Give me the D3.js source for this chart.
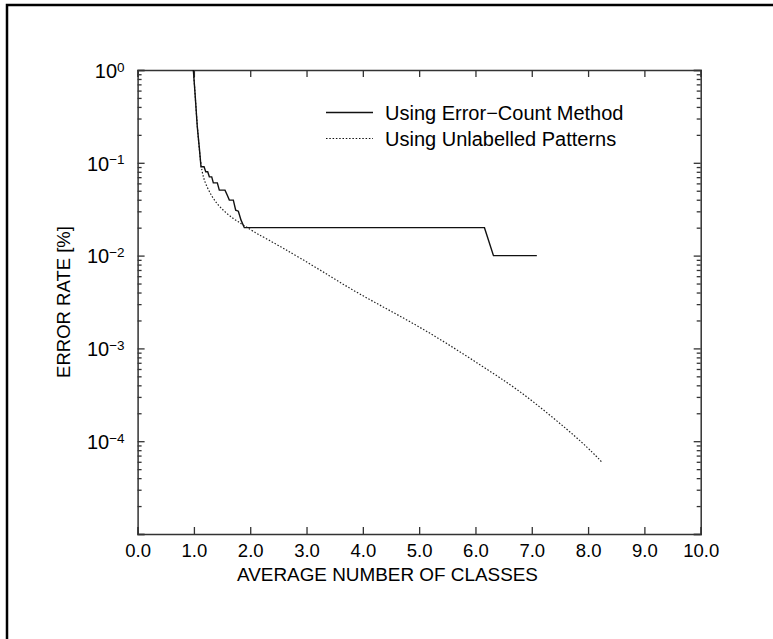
<!DOCTYPE html>
<html>
<head>
<meta charset="utf-8">
<script src="https://cdn.jsdelivr.net/npm/d3@7"></script>
<style>
  body { margin: 0; background: #fff; }
  svg { display: block; font-family: "Liberation Sans", Arial, sans-serif; }
  .domain { stroke: #333; stroke-width: 1.5; }
  .tick line { stroke: #333; stroke-width: 1.3; }
</style>
</head>
<body>
<svg id="chart" width="773" height="639"></svg>
<script>
// x tick values (average number of classes)
const xTicks = [0, 1, 2, 3, 4, 5, 6, 7, 8, 9, 10];
// y decades
const yDecades = [1e-5, 1e-4, 1e-3, 1e-2, 1e-1, 1];
const yLabelled = [1e-4, 1e-3, 1e-2, 1e-1, 1];

// series 1: error-count method (avg classes, error rate)
const errorCountX = [0.99, 1.02, 1.06, 1.10, 1.126, 1.18, 1.21, 1.245, 1.274, 1.316, 1.345, 1.416,
  1.451, 1.552, 1.593, 1.629, 1.70, 1.742, 1.789, 1.837, 1.895, 6.16, 6.32, 7.09];
const errorCountY = [1, 0.56, 0.245, 0.137, 0.0905, 0.0905, 0.08, 0.08, 0.0706, 0.0706, 0.0608, 0.0608,
  0.0508, 0.0508, 0.0448, 0.0396, 0.0396, 0.0309, 0.0301, 0.0241, 0.02, 0.02, 0.01, 0.01];

// series 2: unlabelled patterns
const unlabelledX = [0.99, 1.02, 1.06, 1.10, 1.14, 1.20, 1.32, 1.43, 1.55, 1.67, 1.79, 1.91, 2.08, 2.23,
  2.59, 3.18, 3.77, 4.36, 4.96, 5.55, 6.14, 6.73, 7.33, 7.92, 8.24];
const unlabelledY = [1, 0.56, 0.245, 0.13, 0.08, 0.06, 0.043, 0.035, 0.0296, 0.0258, 0.0231, 0.0207, 0.0178, 0.0159,
  0.012, 0.0074, 0.0044, 0.0028, 0.00177, 0.00108, 0.00063, 0.00037, 0.00019, 0.000095, 0.00006];

const legendLabels = ["Using Error\u2212Count Method", "Using Unlabelled Patterns"];

const svg = d3.select("#chart");

// outer frame
svg.append("rect")
  .attr("x", 7).attr("y", 5)
  .attr("width", 800).attr("height", 700)
  .attr("fill", "none")
  .attr("stroke", "#000")
  .attr("stroke-width", 2.5);

const plotLeft = 137.6, plotRight = 700.7, plotTop = 70, plotBottom = 534;

const x = d3.scaleLinear().domain([0, 10]).range([plotLeft, plotRight]);
const y = d3.scaleLog().domain([1e-5, 1]).range([plotBottom, plotTop]);

// minor ticks for log axis
const minor = [];
yDecades.slice(0, -1).forEach(d => {
  for (let k = 2; k <= 9; k++) minor.push(d * k);
});

// bottom axis
const gx = svg.append("g")
  .attr("transform", "translate(0," + plotBottom + ")")
  .call(d3.axisBottom(x).tickValues(xTicks).tickSize(-7).tickPadding(10)
    .tickFormat(d3.format(".1f")));
gx.selectAll("text").attr("font-size", 18.5).attr("fill", "#000")
  .attr("font-family", "Liberation Sans, Arial, sans-serif");

// top axis
svg.append("g")
  .attr("transform", "translate(0," + plotTop + ")")
  .call(d3.axisTop(x).tickValues(xTicks).tickSize(-7).tickFormat(""));

// left axis major
const gy = svg.append("g")
  .attr("transform", "translate(" + plotLeft + ",0)")
  .call(d3.axisLeft(y).tickValues(yDecades).tickSize(-7).tickFormat(""));
gy.selectAll(".tick")
  .filter(d => yLabelled.includes(d))
  .append("text")
  .attr("x", -13)
  .attr("dy", "0.36em")
  .attr("text-anchor", "end")
  .attr("fill", "#000")
  .attr("font-size", 20)
  .attr("font-family", "Liberation Sans, Arial, sans-serif")
  .each(function (d) {
    const t = d3.select(this);
    const p = Math.round(Math.log10(d));
    t.append("tspan").text("10");
    t.append("tspan")
      .attr("dy", "-0.45em")
      .attr("font-size", 13.5)
      .text(p === 0 ? "0" : "\u2212" + Math.abs(p));
  });

// left axis minor
svg.append("g")
  .attr("transform", "translate(" + plotLeft + ",0)")
  .call(d3.axisLeft(y).tickValues(minor).tickSize(-4).tickFormat(""))
  .select(".domain").remove();

// right axis major + minor
svg.append("g")
  .attr("transform", "translate(" + plotRight + ",0)")
  .call(d3.axisRight(y).tickValues(yDecades).tickSize(-7).tickFormat(""));
svg.append("g")
  .attr("transform", "translate(" + plotRight + ",0)")
  .call(d3.axisRight(y).tickValues(minor).tickSize(-4).tickFormat(""))
  .select(".domain").remove();

// axis titles
svg.append("text")
  .attr("x", 387.5)
  .attr("y", 581)
  .attr("text-anchor", "middle")
  .attr("font-size", 18.9)
  .text("AVERAGE NUMBER OF CLASSES");

svg.append("text")
  .attr("transform", "translate(70," + ((plotTop + plotBottom) / 2) + ") rotate(-90)")
  .attr("text-anchor", "middle")
  .attr("font-size", 18.5)
  .text("ERROR RATE [%]");

// lines
const line = d3.line().x(d => x(d[0])).y(d => y(d[1]));
const smooth = d3.line().x(d => x(d[0])).y(d => y(d[1])).curve(d3.curveBasis);

const errorCount = d3.zip(errorCountX, errorCountY);
const unlabelled = d3.zip(unlabelledX, unlabelledY);

svg.append("path")
  .datum(unlabelled)
  .attr("d", smooth)
  .attr("fill", "none")
  .attr("stroke", "#222")
  .attr("stroke-width", 1.2)
  .attr("stroke-dasharray", "1.5,1.8");

svg.append("path")
  .datum(errorCount)
  .attr("d", line)
  .attr("fill", "none")
  .attr("stroke", "#111")
  .attr("stroke-width", 1.4);

// legend
const legend = svg.append("g");
const legendRows = legend.selectAll("g")
  .data(legendLabels)
  .enter()
  .append("g")
  .attr("transform", (d, i) => "translate(0," + (112.5 + i * 26) + ")");

legendRows.append("line")
  .attr("x1", 326).attr("x2", 373)
  .attr("stroke", "#111")
  .attr("stroke-width", (d, i) => i === 0 ? 1.4 : 1.2)
  .attr("stroke-dasharray", (d, i) => i === 0 ? null : "1.5,1.8");

legendRows.append("text")
  .attr("x", 385)
  .attr("dy", "0.35em")
  .attr("font-size", 20)
  .text(d => d);
</script>
</body>
</html>
